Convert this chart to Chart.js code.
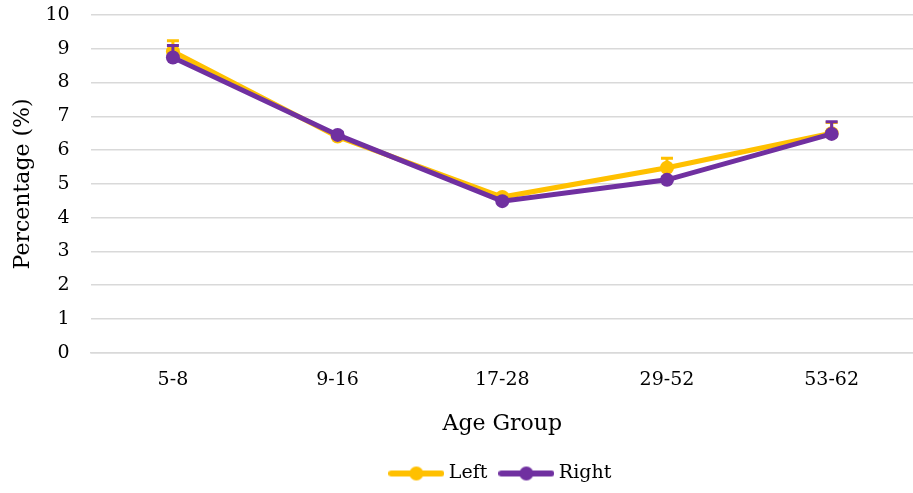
<!DOCTYPE html>
<html>
<head>
<meta charset="utf-8">
<script src="https://cdn.jsdelivr.net/npm/chart.js@4"></script>
<style>
    html, body { margin: 0; padding: 0; background: #fff; overflow: hidden; }
</style>
</head>
<body>
<canvas id="age_chart" width="921" height="493"></canvas>
<script>
var ageGroups = ["5-8", "9-16", "17-28", "29-52", "53-62"];
var leftValues = [8.92, 6.40, 4.61, 5.48, 6.50];
var rightValues = [8.74, 6.45, 4.49, 5.12, 6.48];
var leftErrors = [0.32, 0.08, 0.08, 0.28, 0.32];
var rightErrors = [0.36, 0.08, 0.06, 0.08, 0.36];
var yTicks = [0, 1, 2, 3, 4, 5, 6, 7, 8, 9, 10];

var yellow = '#FFC000';
var purple = '#7030A0';
var fontFamily = '"DejaVu Serif", serif';

// small line + dot icon for the legend
function legendIcon(color) {
    var c = document.createElement('canvas');
    c.width = 56;
    c.height = 16;
    var g = c.getContext('2d');
    g.strokeStyle = color;
    g.lineWidth = 6;
    g.lineCap = 'round';
    g.beginPath();
    g.moveTo(3, 8);
    g.lineTo(53, 8);
    g.stroke();
    g.fillStyle = color;
    g.beginPath();
    g.arc(28, 8, 7, 0, Math.PI * 2);
    g.fill();
    return c;
}

// upward error bars, drawn just before each dataset's line
var errorBars = {
    id: 'errorBars',
    beforeDatasetDraw: function (chart, args) {
        var ds = chart.data.datasets[args.index];
        if (!ds.errorPlus) return;
        var y = chart.scales.y;
        var g = chart.ctx;
        g.save();
        g.strokeStyle = ds.borderColor;
        g.lineWidth = 3;
        args.meta.data.forEach(function (pt, i) {
            var top = y.getPixelForValue(ds.data[i] + ds.errorPlus[i]);
            g.beginPath();
            g.moveTo(pt.x, pt.y);
            g.lineTo(pt.x, top);
            g.moveTo(pt.x - 6, top);
            g.lineTo(pt.x + 6, top);
            g.stroke();
        });
        g.restore();
    }
};

// keep the legend centred under the plot area
var centreLegend = {
    id: 'centreLegend',
    afterLayout: function (chart) {
        var lg = chart.legend;
        var ca = chart.chartArea;
        var shift = (ca.left + ca.right) / 2 - (lg.left + lg.right) / 2;
        lg.left += shift;
        lg.right += shift;
    }
};

var ctx = document.getElementById("age_chart").getContext('2d');
var chart = new Chart(ctx, {
    type: 'line',
    data: {
        labels: ageGroups,
        datasets: [{
            label: 'Left',
            data: leftValues,
            errorPlus: leftErrors,
            borderColor: yellow,
            backgroundColor: yellow,
            borderWidth: 5,
            pointRadius: 7,
            pointBorderWidth: 0,
            pointHoverRadius: 7,
            tension: 0,
            order: 1
        }, {
            label: 'Right',
            data: rightValues,
            errorPlus: rightErrors,
            borderColor: purple,
            backgroundColor: purple,
            borderWidth: 5,
            pointRadius: 7,
            pointBorderWidth: 0,
            pointHoverRadius: 7,
            tension: 0,
            order: 0
        }]
    },
    options: {
        responsive: false,
        animation: false,
        layout: {
            padding: { top: 15, bottom: 0, left: 0, right: 0 }
        },
        scales: {
            x: {
                offset: true,
                grid: { display: false, drawTicks: false, offset: true },
                border: { display: true, color: '#d9d9d9', width: 1.5 },
                ticks: {
                    color: '#000',
                    padding: 16,
                    font: { family: fontFamily, size: 19 }
                },
                title: {
                    display: true,
                    text: 'Age Group',
                    color: '#000',
                    font: { family: fontFamily, size: 22 },
                    padding: { top: 3, bottom: 11 }
                }
            },
            y: {
                min: 0,
                max: 10,
                afterBuildTicks: function (axis) {
                    axis.ticks = yTicks.map(function (v) { return { value: v }; });
                },
                grid: {
                    color: '#d9d9d9',
                    lineWidth: 1.5,
                    drawTicks: true,
                    tickLength: 21,
                    tickColor: 'rgba(0,0,0,0)'
                },
                border: { display: false },
                ticks: {
                    color: '#000',
                    padding: 0,
                    font: { family: fontFamily, size: 19 }
                },
                title: {
                    display: true,
                    text: 'Percentage (%)',
                    color: '#000',
                    font: { family: fontFamily, size: 22 },
                    padding: { top: 10, bottom: 9 }
                }
            }
        },
        plugins: {
            legend: {
                position: 'bottom',
                labels: {
                    usePointStyle: true,
                    pointStyleWidth: 46,
                    padding: 16,
                    color: '#000',
                    font: { family: fontFamily, size: 19 },
                    generateLabels: function (chart) {
                        return chart.data.datasets.map(function (ds, i) {
                            return {
                                text: ds.label,
                                pointStyle: legendIcon(ds.borderColor),
                                fillStyle: ds.borderColor,
                                strokeStyle: ds.borderColor,
                                lineWidth: 0,
                                fontColor: '#000',
                                hidden: false,
                                datasetIndex: i
                            };
                        });
                    }
                }
            },
            tooltip: { enabled: false }
        }
    },
    plugins: [errorBars, centreLegend]
});
</script>
</body>
</html>
